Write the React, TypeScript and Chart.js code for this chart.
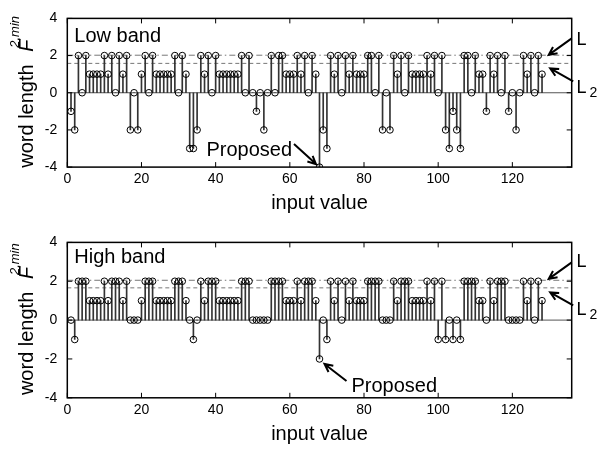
import React, { useEffect, useRef } from "react";
import { Chart, registerables } from "chart.js";
Chart.register(...registerables);

// ---- data ----
const lowBand = [
  -1, -2, 2, 0, 2, 1, 1, 1, 1, 2,
  1, 2, 0, 2, 1, 2, -2, 0, -2, 1,
  2, 0, 2, 1, 1, 1, 1, 1, 2, 0,
  2, 1, -3, -3, -2, 2, 1, 2, 0, 2,
  1, 1, 1, 1, 1, 1, 2, 0, 2, 0,
  -1, 0, -2, 0, 2, 0, 2, 2, 1, 1,
  1, 2, 1, 2, 0, 2, 1, -4, -2, -3,
  2, 1, 2, 0, 2, 1, 2, 1, 1, 1,
  2, 2, 0, 2, -2, 0, -2, 2, 1, 2,
  0, 2, 1, 1, 1, 1, 2, 1, 2, 0,
  2, -2, -3, -1, -2, -3, 2, 2, 0, 2,
  1, 1, -1, 2, 1, 2, 0, 2, -1, 0,
  -2, 0, 2, 1, 2, 0, 2, 1,
];
const highBand = [
  0, -1, 2, 2, 2, 1, 1, 1, 1, 2,
  1, 2, 2, 2, 1, 2, 0, 0, 0, 1,
  2, 2, 2, 1, 1, 1, 1, 1, 2, 2,
  2, 1, 0, -1, 0, 2, 1, 2, 2, 2,
  1, 1, 1, 1, 1, 1, 2, 2, 2, 0,
  0, 0, 0, 0, 2, 2, 2, 2, 1, 1,
  1, 2, 1, 2, 2, 2, 1, -2, 0, -1,
  2, 1, 2, 0, 2, 1, 2, 1, 1, 1,
  2, 2, 2, 2, 0, 0, 0, 2, 1, 2,
  2, 2, 1, 1, 1, 1, 2, 1, 2, -1,
  2, -1, 0, -1, 0, -1, 2, 2, 2, 2,
  1, 1, 0, 2, 1, 2, 2, 2, 0, 0,
  0, 0, 2, 1, 2, 0, 2, 1,
];
const xTicks = [0, 20, 40, 60, 80, 100, 120];
const yTicks = [-4, -2, 0, 2, 4];
const xMax = 136;
const lowLines = [2.02, 1.58]; // L, L2
const highLines = [2.05, 1.66];
const proposedIndex = 68;

const FONT = '"Liberation Sans", Arial, Helvetica, sans-serif';

type Geom = { h: number; top: number; bottom: number };

function arrow(ctx: CanvasRenderingContext2D, x0: number, y0: number, x1: number, y1: number) {
  const ang = Math.atan2(y1 - y0, x1 - x0);
  const hl = 9, ha = 0.45;
  ctx.beginPath();
  ctx.moveTo(x0, y0);
  ctx.lineTo(x1, y1);
  ctx.moveTo(x1 - hl * Math.cos(ang - ha), y1 - hl * Math.sin(ang - ha));
  ctx.lineTo(x1, y1);
  ctx.lineTo(x1 - hl * Math.cos(ang + ha), y1 - hl * Math.sin(ang + ha));
  ctx.stroke();
}

function makeDecor(opts: {
  band: string;
  bandBase: number;
  values: number[];
  proposedUp: boolean;
  lTop: number;
}) {
  return {
    id: "decor",
    afterDraw(chart: any) {
      const { ctx, chartArea: a, scales } = chart;
      const xs = scales.x, ys = scales.y;
      ctx.save();
      // box
      ctx.strokeStyle = "#000";
      ctx.lineWidth = 1.5;
      ctx.strokeRect(a.left, a.top, a.right - a.left, a.bottom - a.top);
      // inward ticks
      ctx.lineWidth = 1;
      ctx.beginPath();
      for (const v of xTicks) {
        const px = xs.getPixelForValue(v);
        ctx.moveTo(px, a.bottom); ctx.lineTo(px, a.bottom - 5);
        ctx.moveTo(px, a.top); ctx.lineTo(px, a.top + 5);
      }
      for (const v of yTicks) {
        const py = ys.getPixelForValue(v);
        ctx.moveTo(a.left, py); ctx.lineTo(a.left + 5, py);
        ctx.moveTo(a.right, py); ctx.lineTo(a.right - 5, py);
      }
      ctx.stroke();

      ctx.fillStyle = "#000";
      ctx.textBaseline = "alphabetic";
      // band label
      ctx.font = `20px ${FONT}`;
      ctx.textAlign = "left";
      ctx.fillText(opts.band, a.left + 7, a.top + opts.bandBase);
      // x title
      ctx.textAlign = "center";
      ctx.fillText("input value", (a.left + a.right) / 2, a.bottom + 42);

      // y title (rotated)
      ctx.save();
      ctx.translate(33.3, (a.top + a.bottom) / 2);
      ctx.rotate(-Math.PI / 2);
      ctx.textAlign = "left";
      ctx.font = `20px ${FONT}`;
      ctx.fillText("word length", -75, 0);
      ctx.font = `italic 20px ${FONT}`;
      ctx.fillText("F", 41, 0);
      ctx.font = `italic 13px ${FONT}`;
      ctx.fillText("2,min", 45, -14);
      ctx.restore();

      // L and L2 arrows and labels
      ctx.lineWidth = 2;
      ctx.strokeStyle = "#000";
      const t = a.top;
      arrow(ctx, a.right, t + 20, a.right - 23, t + 36.5);
      arrow(ctx, a.right + 1.5, t + 63, a.right - 21.5, t + 50);
      ctx.font = `18px ${FONT}`;
      ctx.textAlign = "left";
      ctx.fillText("L", 576.5, t + opts.lTop);
      ctx.fillText("L", 576.5, t + opts.lTop + 48);
      ctx.font = `14px ${FONT}`;
      ctx.fillText("2", 589.5, t + opts.lTop + 52.5);

      // Proposed annotation
      const px = xs.getPixelForValue(proposedIndex);
      const py = ys.getPixelForValue(opts.values[proposedIndex - 1]);
      ctx.font = `20px ${FONT}`;
      if (opts.proposedUp) {
        const tipX = px - 3.5, tipY = py - 3;
        const tailX = tipX - 22, tailY = tipY - 20;
        arrow(ctx, tailX, tailY, tipX, tipY);
        ctx.textAlign = "right";
        ctx.fillText("Proposed", tailX - 2, tailY + 12);
      } else {
        const tipX = px + 5, tipY = py + 5;
        const tailX = tipX + 22, tailY = tipY + 17;
        arrow(ctx, tailX, tailY, tipX, tipY);
        ctx.textAlign = "left";
        ctx.fillText("Proposed", tailX + 5, tailY + 11);
      }
      ctx.restore();
    },
  };
}

function makeConfig(values: number[], lines: number[], geom: Geom, decor: any) {
  const stems = values.map((v, i) => ({ x: i + 1, y: [0, v] }));
  const marks = values.map((v, i) => ({ x: i + 1, y: v }));
  return {
    type: "scatter",
    data: {
      datasets: [
        {
          type: "line",
          data: [{ x: 0, y: 0 }, { x: xMax, y: 0 }],
          borderColor: "#555",
          borderWidth: 1,
          pointRadius: 0,
          order: 5,
        },
        {
          type: "line",
          data: [{ x: 0, y: lines[0] }, { x: xMax, y: lines[0] }],
          borderColor: "#777",
          borderWidth: 1,
          borderDash: [6, 3, 1.5, 3],
          pointRadius: 0,
          order: 4,
        },
        {
          type: "line",
          data: [{ x: 0, y: lines[1] }, { x: xMax, y: lines[1] }],
          borderColor: "#777",
          borderWidth: 1,
          borderDash: [4, 3],
          pointRadius: 0,
          order: 4,
        },
        {
          type: "bar",
          data: stems,
          backgroundColor: "#333",
          barThickness: 1,
          grouped: false,
          order: 3,
        },
        {
          type: "scatter",
          data: marks,
          pointRadius: 3.3,
          pointBorderWidth: 1,
          pointBorderColor: "#000",
          pointBackgroundColor: "rgba(0,0,0,0)",
          showLine: false,
          order: 1,
        },
      ],
    },
    options: {
      animation: false,
      responsive: false,
      events: [],
      layout: { padding: { top: geom.top, left: 0, right: 610 - 571.7, bottom: 0 } },
      plugins: { legend: { display: false }, tooltip: { enabled: false } },
      scales: {
        x: {
          type: "linear",
          min: 0,
          max: xMax,
          offset: false,
          grid: { display: false, drawTicks: false },
          border: { display: false },
          afterBuildTicks: (s: any) => { s.ticks = xTicks.map((v) => ({ value: v })); },
          afterFit: (s: any) => { s.height = geom.h - geom.bottom; },
          ticks: {
            autoSkip: false,
            maxRotation: 0,
            padding: 4,
            color: "#000",
            font: { family: FONT, size: 14 },
          },
        },
        y: {
          type: "linear",
          min: -4,
          max: 4,
          grid: { display: false, drawTicks: false },
          border: { display: false },
          afterBuildTicks: (s: any) => { s.ticks = yTicks.map((v) => ({ value: v })); },
          afterFit: (s: any) => { s.width = 67.3; },
          ticks: {
            padding: 10,
            color: "#000",
            font: { family: FONT, size: 14 },
          },
        },
      },
    },
    plugins: [decor],
  } as any;
}

function Panel(props: {
  values: number[];
  lines: number[];
  geom: Geom;
  top: number;
  band: string;
  bandBase: number;
  proposedUp: boolean;
  lTop: number;
}) {
  const ref = useRef<HTMLCanvasElement | null>(null);
  useEffect(() => {
    if (!ref.current) return;
    const decor = makeDecor({
      band: props.band,
      bandBase: props.bandBase,
      values: props.values,
      proposedUp: props.proposedUp,
      lTop: props.lTop,
    });
    const chart = new Chart(ref.current, makeConfig(props.values, props.lines, props.geom, decor));
    return () => chart.destroy();
  }, []);
  return (
    <canvas
      ref={ref}
      width={610}
      height={props.geom.h}
      style={{ position: "absolute", left: 0, top: props.top, width: 610, height: props.geom.h }}
    />
  );
}

export default function App() {
  return (
    <div
      style={{
        position: "absolute",
        left: 0,
        top: 0,
        width: 610,
        height: 449,
        overflow: "hidden",
        background: "#fff",
      }}
    >
      <Panel
        values={lowBand}
        lines={lowLines}
        geom={{ h: 224, top: 8.3, bottom: 167.1 }}
        top={0}
        band="Low band"
        bandBase={23.4}
        proposedUp={true}
        lTop={26.5}
      />
      <Panel
        values={highBand}
        lines={highLines}
        geom={{ h: 225, top: 15, bottom: 173.8 }}
        top={224}
        band="High band"
        bandBase={21}
        proposedUp={false}
        lTop={24.5}
      />
    </div>
  );
}
